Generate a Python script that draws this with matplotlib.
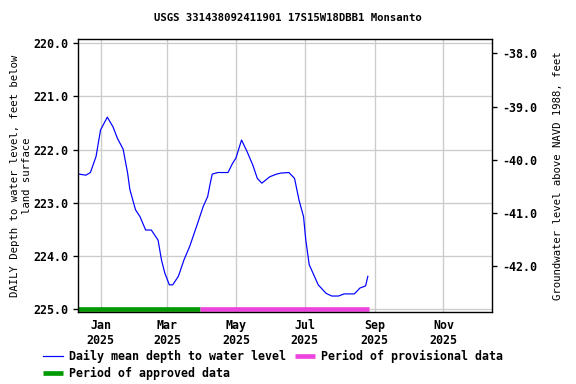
import matplotlib
matplotlib.use("Agg")
import matplotlib.pyplot as plt
import numpy as np
import pandas as pd

## DATA

dates = ["2024-12-13", "2024-12-19", "2024-12-23", "2024-12-28", "2025-01-01",
         "2025-01-07", "2025-01-12", "2025-01-16", "2025-01-21", "2025-01-25",
         "2025-01-27", "2025-02-01", "2025-02-05", "2025-02-10", "2025-02-15",
         "2025-02-21", "2025-02-24", "2025-02-27", "2025-03-03", "2025-03-06",
         "2025-03-11", "2025-03-16", "2025-03-21", "2025-03-27", "2025-04-02",
         "2025-04-06", "2025-04-08", "2025-04-10", "2025-04-15", "2025-04-24",
         "2025-04-28", "2025-05-01", "2025-05-06", "2025-05-11", "2025-05-16",
         "2025-05-20", "2025-05-24", "2025-05-31", "2025-06-06", "2025-06-10",
         "2025-06-17", "2025-06-22", "2025-06-26", "2025-06-30", "2025-07-02",
         "2025-07-05", "2025-07-09", "2025-07-13", "2025-07-20", "2025-07-25",
         "2025-07-31", "2025-08-05", "2025-08-14", "2025-08-19", "2025-08-24",
         "2025-08-26"]
depth = [222.46, 222.48, 222.43, 222.13, 221.63,
         221.39, 221.57, 221.79, 221.99, 222.44,
         222.75, 223.13, 223.26, 223.51, 223.51,
         223.70, 224.07, 224.32, 224.54, 224.54,
         224.38, 224.07, 223.82, 223.45, 223.07,
         222.88, 222.66, 222.46, 222.43, 222.43,
         222.26, 222.16, 221.82, 222.04, 222.29,
         222.54, 222.63, 222.51, 222.46, 222.44,
         222.43, 222.54, 222.95, 223.26, 223.70,
         224.16, 224.35, 224.54, 224.70, 224.75,
         224.75, 224.71, 224.71, 224.60, 224.56,
         224.38]

approved_period = ["2024-12-12", "2025-03-30"]
provisional_period = ["2025-03-30", "2025-08-27"]

land_surface_navd = 182.19

x_ticks = ["2025-01-01", "2025-03-01", "2025-05-01", "2025-07-01", "2025-09-01", "2025-11-01"]
x_labels = ["Jan\n2025", "Mar\n2025", "May\n2025", "Jul\n2025", "Sep\n2025", "Nov\n2025"]
y_ticks = [220.0, 221.0, 222.0, 223.0, 224.0, 225.0]
y2_ticks = [-38.0, -39.0, -40.0, -41.0, -42.0]

## PLOT

plt.rcParams['font.family'] = 'DejaVu Sans Mono'
plt.rcParams['font.weight'] = 'bold'
plt.rcParams['font.size'] = 8

fig = plt.figure(figsize=(6, 4), dpi=96)
ax = fig.add_axes([0.1354, 0.1875, 0.7186, 0.7105])

t = pd.to_datetime(dates)
ax.plot(t, depth, color='blue', lw=0.9, label='Daily mean depth to water level')
ax.plot(pd.to_datetime(approved_period), [225.0, 225.0], color='#009900', lw=3.5,
        solid_capstyle='butt', label='Period of approved data')
ax.plot(pd.to_datetime(provisional_period), [225.0, 225.0], color='#ee44dd', lw=3.5,
        solid_capstyle='butt', label='Period of provisional data')

ax.set_xlim(pd.Timestamp("2024-12-12"), pd.Timestamp("2025-12-14"))
ax.set_ylim(225.05, 219.925)
ax.set_xticks(pd.to_datetime(x_ticks))
ax.set_xticklabels(x_labels, fontsize=8.7, linespacing=1.25)
ax.set_yticks(y_ticks)
ax.set_yticklabels([f"{v:.1f}" for v in y_ticks], fontsize=8.7)
ax.grid(True, color='#cccccc', lw=1)
ax.set_axisbelow(True)
ax.tick_params(length=4, width=1, color='black')
ax.tick_params(axis='x', length=0, pad=5)
for s in ax.spines.values():
    s.set_linewidth(1)
ax.set_ylabel("DAILY Depth to water level, feet below\nland surface", labelpad=1)

ax2 = ax.twinx()
lo, hi = ax.get_ylim()
ax2.set_ylim(land_surface_navd - lo, land_surface_navd - hi)
ax2.set_yticks(y2_ticks)
ax2.set_yticklabels([f"{v:.1f}" for v in y2_ticks], fontsize=8.7)
ax2.tick_params(length=4, width=1)
ax2.set_ylabel("Groundwater level above NAVD 1988, feet", labelpad=12)

fig.suptitle("USGS 331438092411901 17S15W18DBB1 Monsanto", y=0.965, fontsize=8,
             fontweight='bold')

h, l = ax.get_legend_handles_labels()
fig.legend(h, l, loc='upper left', bbox_to_anchor=(0.075, 0.088), ncol=2, frameon=False,
           fontsize=8.7, handlelength=1.7, columnspacing=0.8, handletextpad=0.5,
           labelspacing=0.35, borderaxespad=0, borderpad=0)

fig.savefig("out.png", dpi=96)
